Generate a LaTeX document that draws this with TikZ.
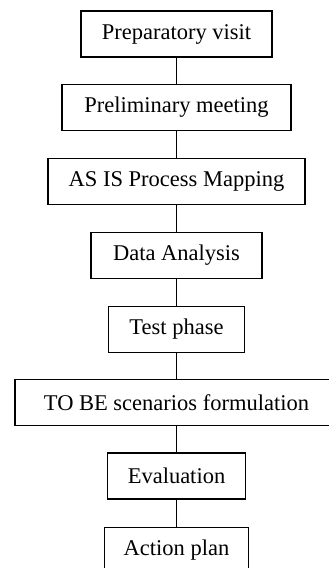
\documentclass[tikz,border=0pt]{standalone}
\usepackage{fontspec}
\setmainfont{Liberation Serif}
\begin{document}
\begin{tikzpicture}[x=1pt,y=-1pt,
  stepbox/.style={draw=black,line width=1.6pt,fill=white,inner sep=0pt,minimum height=46pt,
    font=\fontsize{22.5}{25}\selectfont},
  link/.style={draw=black,line width=0.9pt}]
\useasboundingbox (0,0) rectangle (329,568);
\clip (0,0) rectangle (329,568);
\node[stepbox,minimum width=191pt] (a) at (176.5,34) {Preparatory visit};
\node[stepbox,minimum width=229pt] (b) at (176.5,107.5) {Preliminary meeting};
\node[stepbox,minimum width=257pt] (c) at (176.5,181.5) {AS IS Process Mapping};
\node[stepbox,minimum width=171pt] (d) at (176.5,255.5) {Data Analysis};
\node[stepbox,minimum width=136pt] (e) at (176.5,329.5) {Test phase};
\node[stepbox,minimum width=323pt] (f) at (176.5,402.5) {TO BE scenarios formulation};
\node[stepbox,minimum width=138pt] (g) at (176.5,476) {Evaluation};
\node[stepbox,minimum width=144pt] (h) at (176.5,550.5) {Action plan};
\draw[link] (a) -- (b);
\draw[link] (b) -- (c);
\draw[link] (c) -- (d);
\draw[link] (d) -- (e);
\draw[link] (e) -- (f);
\draw[link] (f) -- (g);
\draw[link] (g) -- (h);
\end{tikzpicture}
\end{document}
